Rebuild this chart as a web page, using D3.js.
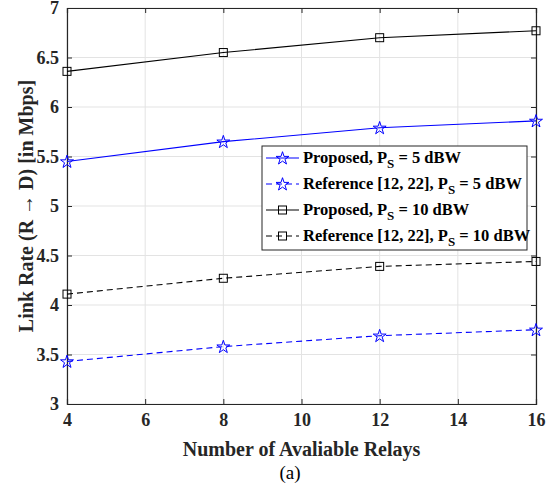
<!DOCTYPE html>
<html>
<head>
<meta charset="utf-8">
<script src="https://cdn.jsdelivr.net/npm/d3@7"></script>
<style>
  body { margin: 0; background: #fff; }
  svg text { font-family: "Liberation Serif", "Times New Roman", serif; }
</style>
</head>
<body>
<script>
// Relay counts on the x axis
var relays = [4, 8, 12, 16];

// Link rate series (Mbps)
var proposed5 = [5.45, 5.65, 5.79, 5.86];
var reference5 = [3.43, 3.58, 3.69, 3.75];
var proposed10 = [6.36, 6.55, 6.70, 6.77];
var reference10 = [4.11, 4.27, 4.39, 4.44];

var xTicks = [4, 6, 8, 10, 12, 14, 16];
var yTicks = [3, 3.5, 4, 4.5, 5, 5.5, 6, 6.5, 7];

var seriesList = [
    { name: "Proposed, P", sub: "S", tail: " = 5 dBW", values: proposed5, color: "#0000ff", dash: null, marker: "star" },
    { name: "Reference [12, 22], P", sub: "S", tail: " = 5 dBW", values: reference5, color: "#0000ff", dash: "6,4", marker: "star" },
    { name: "Proposed, P", sub: "S", tail: " = 10 dBW", values: proposed10, color: "#000000", dash: null, marker: "square" },
    { name: "Reference [12, 22], P", sub: "S", tail: " = 10 dBW", values: reference10, color: "#000000", dash: "6,4", marker: "square" }
];

var width = 556, height = 487;
var margin = { left: 67, right: 20, top: 8, bottom: 83 };
var plotW = width - margin.left - margin.right;
var plotH = height - margin.top - margin.bottom;

var svg = d3.select("body").append("svg")
    .attr("width", width)
    .attr("height", height);

var g = svg.append("g")
    .attr("transform", "translate(" + margin.left + "," + margin.top + ")");

var x = d3.scaleLinear().domain([4, 16]).range([0, plotW]);
var y = d3.scaleLinear().domain([3, 7]).range([plotH, 0]);

// Grid lines
g.selectAll(".gx").data(xTicks).enter().append("line")
    .attr("x1", function (d) { return x(d); })
    .attr("x2", function (d) { return x(d); })
    .attr("y1", 0).attr("y2", plotH)
    .attr("stroke", "#e3e3e3").attr("stroke-width", 1);

g.selectAll(".gy").data(yTicks).enter().append("line")
    .attr("x1", 0).attr("x2", plotW)
    .attr("y1", function (d) { return y(d); })
    .attr("y2", function (d) { return y(d); })
    .attr("stroke", "#e3e3e3").attr("stroke-width", 1);

// Axes with inward ticks
var xAxis = g.append("g")
    .attr("transform", "translate(0," + plotH + ")")
    .call(d3.axisBottom(x).tickValues(xTicks).tickSize(-5).tickPadding(9).tickFormat(d3.format("d")));
var xTop = g.append("g")
    .call(d3.axisTop(x).tickValues(xTicks).tickSize(-5).tickFormat(""));
var yAxis = g.append("g")
    .call(d3.axisLeft(y).tickValues(yTicks).tickSize(-5).tickPadding(8).tickFormat(function (d) { return d; }));
var yRight = g.append("g")
    .attr("transform", "translate(" + plotW + ",0)")
    .call(d3.axisRight(y).tickValues(yTicks).tickSize(-5).tickFormat(""));

[xAxis, xTop, yAxis, yRight].forEach(function (a) {
    a.select(".domain").attr("stroke", "#262626").attr("stroke-width", 1.2);
    a.selectAll(".tick line").attr("stroke", "#262626");
    a.selectAll("text")
        .attr("fill", "#262626")
        .style("font-size", "18px")
        .style("font-weight", "bold")
        .style("font-family", "'Liberation Serif', serif");
});

// Marker drawing
var starPath = d3.symbol().type(d3.symbolStar).size(52)();

function drawMarker(sel, type, color) {
    if (type === "star") {
        sel.append("path")
            .attr("d", starPath)
            .attr("transform", "translate(0,0.5)")
            .attr("fill", "none")
            .attr("stroke", color)
            .attr("stroke-width", 1);
    } else {
        sel.append("rect")
            .attr("x", -4).attr("y", -4)
            .attr("width", 8).attr("height", 8)
            .attr("fill", "none")
            .attr("stroke", color)
            .attr("stroke-width", 1);
    }
}

var line = d3.line()
    .x(function (d, i) { return x(relays[i]); })
    .y(function (d) { return y(d); });

seriesList.forEach(function (s) {
    g.append("path")
        .datum(s.values)
        .attr("d", line)
        .attr("fill", "none")
        .attr("stroke", s.color)
        .attr("stroke-width", 1.1)
        .attr("stroke-dasharray", s.dash);

    s.values.forEach(function (v, i) {
        var m = g.append("g")
            .attr("transform", "translate(" + x(relays[i]) + "," + y(v) + ")");
        drawMarker(m, s.marker, s.color);
    });
});

// Legend
var lg = svg.append("g").attr("transform", "translate(262,146)");
lg.append("rect")
    .attr("width", 265).attr("height", 104)
    .attr("fill", "#fff")
    .attr("stroke", "#262626").attr("stroke-width", 1);

seriesList.forEach(function (s, i) {
    var yy = 12 + i * 26;
    lg.append("line")
        .attr("x1", 4).attr("x2", 37)
        .attr("y1", yy).attr("y2", yy)
        .attr("stroke", s.color)
        .attr("stroke-width", 1.1)
        .attr("stroke-dasharray", s.dash);
    var m = lg.append("g").attr("transform", "translate(20.5," + yy + ")");
    drawMarker(m, s.marker, s.color);

    var t = lg.append("text")
        .attr("x", 41).attr("y", yy + 5)
        .style("font-size", "16.5px")
        .style("font-weight", "bold")
        .attr("fill", "#000");
    t.append("tspan").text(s.name);
    t.append("tspan").attr("dy", 5).style("font-size", "13px").text(s.sub);
    t.append("tspan").attr("dy", -5).text(s.tail);
});

// Axis labels
svg.append("text")
    .attr("x", margin.left + plotW / 2)
    .attr("y", 456)
    .attr("text-anchor", "middle")
    .style("font-size", "20px")
    .style("font-weight", "bold")
    .attr("fill", "#262626")
    .text("Number of Avaliable Relays");

svg.append("text")
    .attr("transform", "translate(33," + (margin.top + plotH / 2) + ") rotate(-90)")
    .attr("text-anchor", "middle")
    .style("font-size", "20px")
    .style("font-weight", "bold")
    .attr("fill", "#262626")
    .text("Link Rate (R \u2192 D) [in Mbps]");

svg.append("text")
    .attr("x", 290)
    .attr("y", 479)
    .attr("text-anchor", "middle")
    .style("font-size", "19px")
    .attr("fill", "#000")
    .text("(a)");
</script>
</body>
</html>
